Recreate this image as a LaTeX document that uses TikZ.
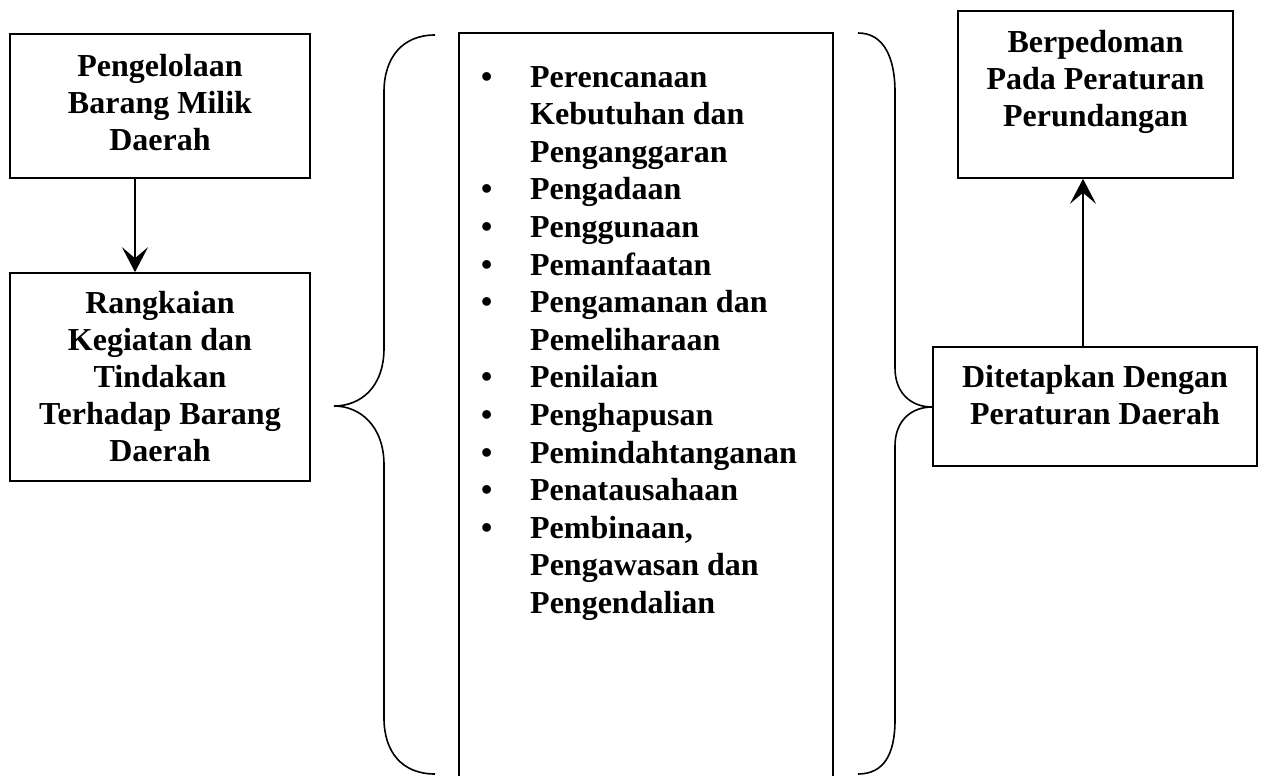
\documentclass[tikz,border=0pt]{standalone}
\usepackage{fontspec}
\setmainfont{Liberation Serif}
\usetikzlibrary{arrows.meta}
\tikzset{
  every picture/.style={x=1pt,y=-1pt},
  boxnode/.style={draw,line width=1.6pt,rectangle,inner sep=0pt},
  txt/.style={font=\fontsize{32}{37}\selectfont\bfseries,align=center,inner sep=0pt,anchor=north},
  listtxt/.style={font=\fontsize{32}{37.6}\selectfont\bfseries,align=left,inner sep=0pt,anchor=north west},
  arr/.style={line width=1.6pt,-{Stealth[length=25pt,width=26pt,inset=11pt]}},
  bracepath/.style={line width=1.6pt},
}
\newcommand{\bul}{\makebox[49pt][l]{\textbullet}}
\newcommand{\nob}{\hspace*{49pt}}
\begin{document}
\begin{tikzpicture}
\useasboundingbox (0,0) rectangle (1264,776);
% left boxes
\node[boxnode,minimum width=300pt,minimum height=144pt] (a) at (160,106) {};
\node[txt] (at) at (160,54) {Pengelolaan\\Barang Milik\\Daerah};
\node[boxnode,minimum width=300pt,minimum height=208pt] (b) at (160,377) {};
\node[txt] (bt) at (160,291) {Rangkaian\\Kegiatan dan\\Tindakan\\Terhadap Barang\\Daerah};
\coordinate (ax1) at (135,0);
\draw[arr] (a.south -| ax1) -- (b.north -| ax1);
% left brace
\draw[bracepath] (435,35) .. controls (402,35) and (384,58) .. (384,92) -- (384,348)
  .. controls (384,388) and (360,406) .. (334,406)
  .. controls (360,406) and (384,426) .. (384,465) -- (384,718)
  .. controls (384,752) and (402,774) .. (435,774);
% centre box
\coordinate (c1) at (459,790);
\coordinate (c2) at (459,33);
\coordinate (c3) at (833,33);
\coordinate (c4) at (833,790);
\draw[line width=1.6pt] (c1) -- (c2) -- (c3) -- (c4);
\node[listtxt] (list) at (481,66) {\bul Perencanaan\\\nob Kebutuhan dan\\\nob Penganggaran\\
\bul Pengadaan\\\bul Penggunaan\\\bul Pemanfaatan\\\bul Pengamanan dan\\\nob Pemeliharaan\\
\bul Penilaian\\\bul Penghapusan\\\bul Pemindahtanganan\\\bul Penatausahaan\\
\bul Pembinaan,\\\nob Pengawasan dan\\\nob Pengendalian};
% right brace
\draw[bracepath] (858,33) .. controls (884,33) and (895,58) .. (895,92) -- (895,368)
  .. controls (895,394) and (912,407) .. (932,407)
  .. controls (912,407) and (895,420) .. (895,446) -- (895,720)
  .. controls (895,754) and (884,774) .. (858,774);
% right boxes
\node[boxnode,minimum width=275pt,minimum height=167pt] (c) at (1095.5,94.5) {};
\node[txt] (ct) at (1095.5,30) {Berpedoman\\Pada Peraturan\\Perundangan};
\node[boxnode,minimum width=324pt,minimum height=119pt] (d) at (1095,406.5) {};
\node[txt] (dt) at (1095,365) {Ditetapkan Dengan\\Peraturan Daerah};
\coordinate (ax2) at (1083,0);
\draw[arr] (d.north -| ax2) -- (c.south -| ax2);
\end{tikzpicture}
\end{document}
